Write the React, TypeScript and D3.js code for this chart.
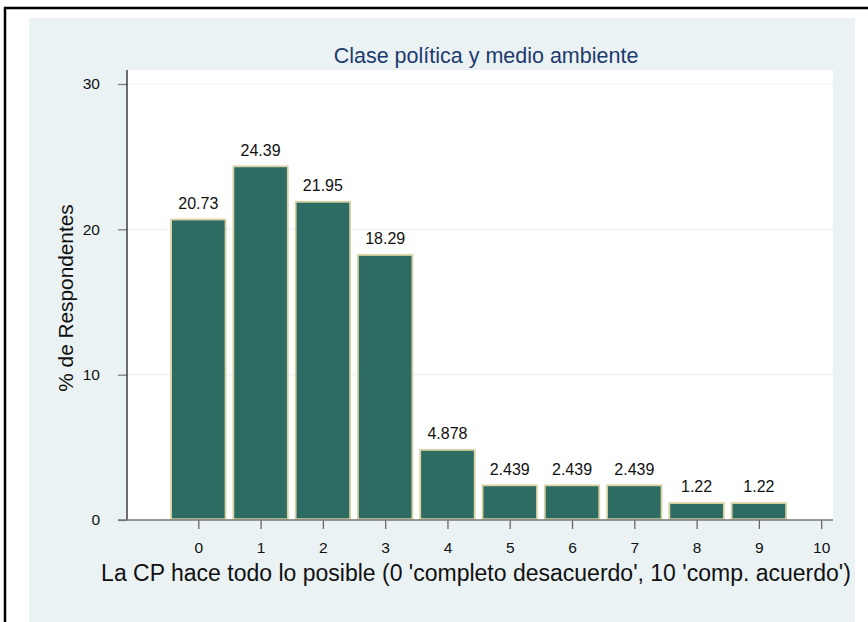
import React, { useRef, useEffect } from 'react';
import * as d3 from 'd3';

const categories = [0, 1, 2, 3, 4, 5, 6, 7, 8, 9];
const values = [20.73, 24.39, 21.95, 18.29, 4.878, 2.439, 2.439, 2.439, 1.22, 1.22];
const valueLabels = ['20.73', '24.39', '21.95', '18.29', '4.878', '2.439', '2.439', '2.439', '1.22', '1.22'];
const xTicks = [0, 1, 2, 3, 4, 5, 6, 7, 8, 9, 10];
const yTicks = [0, 10, 20, 30];

const W = 868;
const H = 622;
const FONT = '"Liberation Sans", Arial, Helvetica, sans-serif';

const App: React.FC = () => {
  const svgRef = useRef<SVGSVGElement | null>(null);

  useEffect(() => {
    if (!svgRef.current) return;
    const svg = d3.select(svgRef.current);
    svg.selectAll('*').remove();

    // page + frame
    svg.append('rect').attr('width', W).attr('height', H).attr('fill', '#ffffff');
    svg.append('rect')
      .attr('x', 29).attr('y', 18).attr('width', 826).attr('height', 604)
      .attr('fill', '#eaf2f3');
    svg.append('line').attr('x1', 4).attr('x2', W).attr('y1', 8).attr('y2', 8)
      .attr('stroke', '#000').attr('stroke-width', 2.5);
    svg.append('line').attr('x1', 5).attr('x2', 5).attr('y1', 7).attr('y2', H)
      .attr('stroke', '#000').attr('stroke-width', 2.5);

    const plot = { left: 127, right: 833, top: 70, bottom: 520 };

    svg.append('rect')
      .attr('x', plot.left).attr('y', plot.top)
      .attr('width', plot.right - plot.left).attr('height', plot.bottom - plot.top)
      .attr('fill', '#ffffff');

    const x = d3.scaleLinear().domain([-1.145, 10.19]).range([plot.left, plot.right]);
    const y = d3.scaleLinear().domain([0, 30]).range([plot.bottom, 84]);

    // grid
    svg.append('g').selectAll('line')
      .data(yTicks.filter(t => t > 0))
      .enter().append('line')
      .attr('x1', plot.left).attr('x2', plot.right)
      .attr('y1', d => y(d)).attr('y2', d => y(d))
      .attr('stroke', '#eaf2f3').attr('stroke-width', 1.2);

    // bars
    const barW = (x(1) - x(0)) * 0.9;
    svg.append('g').selectAll('rect')
      .data(categories)
      .enter().append('rect')
      .attr('x', (d) => x(d) - barW / 2 + 0.8)
      .attr('y', (d, i) => y(values[i]) + 0.8)
      .attr('width', barW - 1.6)
      .attr('height', (d, i) => y(0) - y(values[i]) - 1.6)
      .attr('fill', '#2d6c63')
      .attr('stroke', '#d9d3a3')
      .attr('stroke-width', 1.8);

    // bar labels
    svg.append('g').selectAll('text')
      .data(categories)
      .enter().append('text')
      .attr('x', d => x(d))
      .attr('y', (d, i) => y(values[i]) - 10)
      .attr('text-anchor', 'middle')
      .attr('font-family', FONT)
      .attr('font-size', 16)
      .attr('fill', '#111')
      .text((d, i) => valueLabels[i]);

    // y axis
    const yAxis = d3.axisLeft(y).tickValues(yTicks).tickSize(9).tickPadding(18);
    const gy = svg.append('g').attr('transform', `translate(${plot.left},0)`).call(yAxis);
    gy.select('.domain').remove();
    gy.selectAll('.tick line').attr('stroke', '#777').attr('stroke-width', 1.2);
    gy.selectAll('.tick text').attr('font-family', FONT).attr('font-size', 15.5).attr('fill', '#111');
    svg.append('line')
      .attr('x1', plot.left).attr('x2', plot.left)
      .attr('y1', plot.top).attr('y2', plot.bottom)
      .attr('stroke', '#111').attr('stroke-width', 1.2);

    // x axis
    const xAxis = d3.axisBottom(x).tickValues(xTicks).tickSize(9).tickPadding(13).tickFormat(d3.format('d'));
    const gx = svg.append('g').attr('transform', `translate(0,${plot.bottom})`).call(xAxis);
    gx.select('.domain').remove();
    gx.selectAll('.tick line').attr('stroke', '#666').attr('stroke-width', 1.3);
    gx.selectAll('.tick text').attr('font-family', FONT).attr('font-size', 15.5).attr('fill', '#111');
    svg.append('line')
      .attr('x1', 118).attr('x2', plot.right)
      .attr('y1', plot.bottom).attr('y2', plot.bottom)
      .attr('stroke', '#777').attr('stroke-width', 1.6);

    // titles
    svg.append('text')
      .attr('x', 486).attr('y', 63)
      .attr('text-anchor', 'middle')
      .attr('font-family', FONT).attr('font-size', 21.5)
      .attr('fill', '#1e3a6e')
      .text('Clase política y medio ambiente');

    svg.append('text')
      .attr('x', 476).attr('y', 581)
      .attr('text-anchor', 'middle')
      .attr('font-family', FONT).attr('font-size', 23)
      .attr('fill', '#111')
      .text("La CP hace todo lo posible (0 'completo desacuerdo', 10 'comp. acuerdo')");

    svg.append('text')
      .attr('transform', `translate(73,298) rotate(-90)`)
      .attr('text-anchor', 'middle')
      .attr('font-family', FONT).attr('font-size', 20.8)
      .attr('fill', '#111')
      .text('% de Respondentes');
  }, []);

  return (
    <div style={{ position: 'fixed', left: 0, top: 0 }}>
      <svg ref={svgRef} width={W} height={H} style={{ display: 'block' }} />
    </div>
  );
};

export default App;
